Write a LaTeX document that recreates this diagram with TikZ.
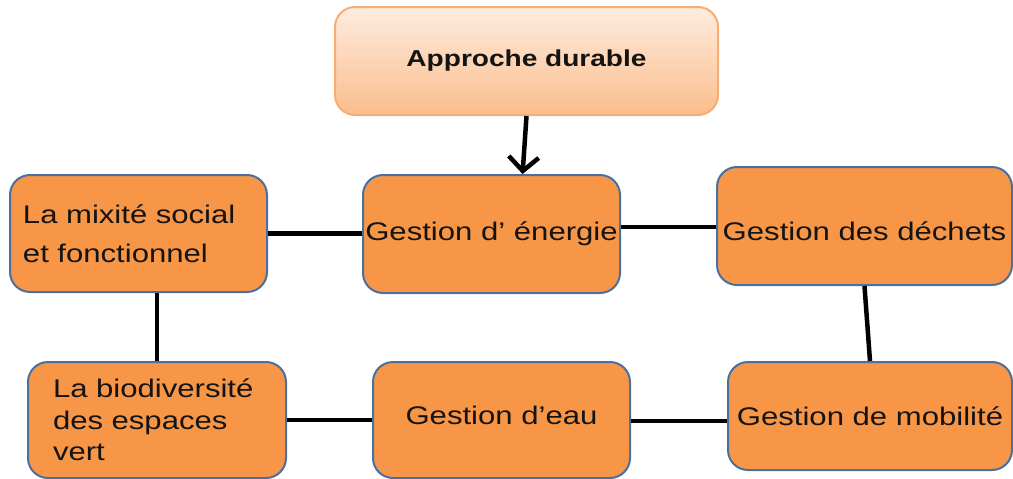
\documentclass[tikz,border=0pt]{standalone}
\usepackage{fontspec}
\setmainfont{Liberation Sans}[FakeStretch=1.22]
\usetikzlibrary{arrows.meta,calc}
\definecolor{boxfill}{HTML}{F79646}
\definecolor{boxline}{HTML}{4A6FA0}
\definecolor{topline}{HTML}{F6AE75}
\definecolor{toptop}{HTML}{FEECDF}
\definecolor{topbot}{HTML}{FBBD8B}
\tikzset{
  box/.style={draw=boxline, line width=2pt, fill=boxfill, rounded corners=20pt,
    inner sep=2pt, font=\fontsize{25.5}{30}\selectfont, text=black!92},
  topbox/.style={draw=topline, line width=2pt, top color=toptop, bottom color=topbot,
    rounded corners=20pt, font=\bfseries\fontsize{23}{26}\selectfont, text=black!92},
  link/.style={line width=4.5pt, black},
}
\begin{document}
\begin{tikzpicture}[x=1pt,y=-1pt]
\useasboundingbox (0,0) rectangle (1013,479);
\node[topbox, minimum width=383pt, minimum height=108pt] (top) at (526.5,61) {Approche durable};
\node[box, minimum width=257pt, minimum height=117pt, text width=231pt, inner xsep=13pt, align=left,
  font=\fontsize{25.5}{38.5}\selectfont] (mixite) at (138.5,233.5) {La mixité social\\et fonctionnel};
\node[box, minimum width=257pt, minimum height=118pt] (energie) at (491.5,234) {Gestion d’ énergie};
\node[box, minimum width=295pt, minimum height=118pt, text height=33pt, text depth=5pt] (dechets) at (864.5,226) {Gestion des déchets};
\node[box, minimum width=258pt, minimum height=116pt, text width=208pt, inner xsep=25pt, align=left,
  font=\fontsize{25.5}{31.5}\selectfont] (biodiv) at (157,420) {La biodiversité\\des espaces\\vert};
\node[box, minimum width=257pt, minimum height=116pt, text height=14pt, text depth=5pt] (eau) at (501.5,420) {Gestion d’eau};
\node[box, minimum width=284pt, minimum height=108pt, text height=23pt, text depth=5pt] (mobilite) at (870,416) {Gestion de mobilité};

\draw[link, -{Straight Barb[length=14pt,width=30pt,line width=4.5pt]}] (top.south) -- ($(energie.north west)!0.62!(energie.north east)$);
\draw[link] (mixite.east) -- (energie.west |- mixite.east);
\draw[link] (energie.east |- 0,227) -- (dechets.west |- 0,227);
\draw[link] (mixite.south -| biodiv.north) -- (biodiv.north);
\draw[link] (dechets.south) -- (mobilite.north);
\draw[link] (biodiv.east) -- (eau.west);
\draw[link] (eau.east |- 0,421) -- (mobilite.west |- 0,421);
\end{tikzpicture}
\end{document}
